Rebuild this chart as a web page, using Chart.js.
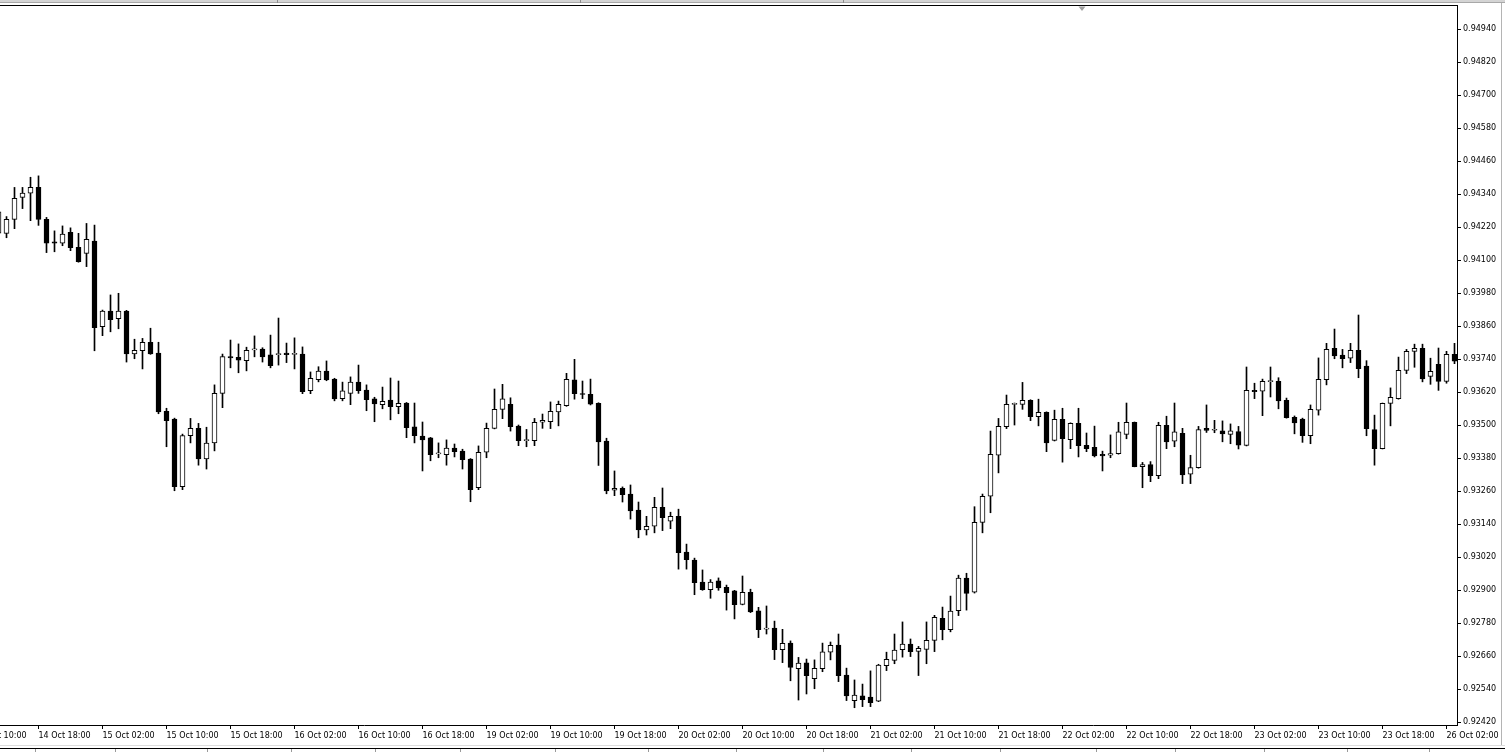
<!DOCTYPE html>
<html>
<head>
<meta charset="utf-8">
<title>H1 candlestick chart</title>
<script src="https://cdn.jsdelivr.net/npm/chart.js@4.4.1/dist/chart.umd.min.js"></script>
<style>
  html, body { margin: 0; padding: 0; background: #fff; overflow: hidden; }
  #wrap { width: 1505px; height: 752px; }
</style>
</head>
<body>
<div id="wrap"><canvas id="chart" width="1505" height="752"></canvas></div>
<script>
// Hourly bars, 14 Oct 13:00 .. 26 Oct 03:00 (first one is cut off by the left edge)
const firstBar = -1;

const opens = [
  0.94199,
  0.94198, 0.94249, 0.94329, 0.94344, 0.94365, 0.94249, 0.94167, 0.94162, 0.94202, 0.94147,
  0.94125, 0.94170, 0.93859, 0.93915, 0.93888, 0.93915, 0.93760, 0.93771, 0.93802, 0.93763,
  0.93551, 0.93523, 0.93277, 0.93462, 0.93489, 0.93378, 0.93436, 0.93616, 0.93750, 0.93747,
  0.93735, 0.93774, 0.93777, 0.93756, 0.93757, 0.93763, 0.93758, 0.93759, 0.93626, 0.93666,
  0.93697, 0.93668, 0.93597, 0.93616, 0.93657, 0.93628, 0.93596, 0.93575, 0.93592, 0.93568,
  0.93581, 0.93494, 0.93461, 0.93454, 0.93396, 0.93393, 0.93417, 0.93406, 0.93377, 0.93273,
  0.93402, 0.93489, 0.93558, 0.93576, 0.93497, 0.93444, 0.93444, 0.93511, 0.93513, 0.93549,
  0.93571, 0.93665, 0.93614, 0.93613, 0.93580, 0.93443, 0.93264, 0.93271, 0.93250, 0.93192,
  0.93120, 0.93133, 0.93202, 0.93151, 0.93169, 0.93039, 0.93010, 0.92930, 0.92902, 0.92934,
  0.92911, 0.92898, 0.92849, 0.92893, 0.92825, 0.92759, 0.92763, 0.92684, 0.92708, 0.92615,
  0.92636, 0.92579, 0.92615, 0.92675, 0.92701, 0.92592, 0.92499, 0.92516, 0.92512, 0.92497,
  0.92626, 0.92645, 0.92684, 0.92704, 0.92678, 0.92685, 0.92718, 0.92798, 0.92757, 0.92826,
  0.92944, 0.92893, 0.93147, 0.93242, 0.93391, 0.93495, 0.93576, 0.93576, 0.93591, 0.93531,
  0.93547, 0.93445, 0.93522, 0.93448, 0.93507, 0.93427, 0.93420, 0.93394, 0.93391, 0.93397,
  0.93467, 0.93511, 0.93350, 0.93357, 0.93317, 0.93500, 0.93442, 0.93471, 0.93322, 0.93346,
  0.93489, 0.93482, 0.93480, 0.93467, 0.93477, 0.93427, 0.93627, 0.93624, 0.93659, 0.93660,
  0.93591, 0.93529, 0.93523, 0.93462, 0.93555, 0.93666, 0.93780, 0.93755, 0.93744, 0.93773,
  0.93715, 0.93484, 0.93415, 0.93580, 0.93597, 0.93700, 0.93769, 0.93780, 0.93678, 0.93722,
  0.93660, 0.93758
];

const highs = [
  0.94280,
  0.94259, 0.94365, 0.94365, 0.94402, 0.94407, 0.94256, 0.94207, 0.94225, 0.94218, 0.94198,
  0.94234, 0.94228, 0.93919, 0.93974, 0.93980, 0.93918, 0.93813, 0.93816, 0.93853, 0.93802,
  0.93562, 0.93526, 0.93468, 0.93525, 0.93507, 0.93493, 0.93647, 0.93759, 0.93810, 0.93796,
  0.93784, 0.93825, 0.93782, 0.93828, 0.93890, 0.93799, 0.93818, 0.93785, 0.93694, 0.93713,
  0.93734, 0.93671, 0.93657, 0.93676, 0.93719, 0.93647, 0.93602, 0.93639, 0.93672, 0.93661,
  0.93583, 0.93581, 0.93512, 0.93456, 0.93436, 0.93447, 0.93432, 0.93413, 0.93379, 0.93425,
  0.93508, 0.93632, 0.93649, 0.93600, 0.93501, 0.93485, 0.93525, 0.93541, 0.93585, 0.93588,
  0.93689, 0.93740, 0.93661, 0.93668, 0.93582, 0.93453, 0.93334, 0.93276, 0.93283, 0.93221,
  0.93169, 0.93238, 0.93272, 0.93184, 0.93195, 0.93068, 0.93017, 0.92974, 0.92939, 0.92945,
  0.92919, 0.92900, 0.92952, 0.92904, 0.92838, 0.92843, 0.92788, 0.92758, 0.92716, 0.92656,
  0.92650, 0.92647, 0.92708, 0.92712, 0.92741, 0.92617, 0.92574, 0.92559, 0.92607, 0.92631,
  0.92675, 0.92741, 0.92785, 0.92723, 0.92696, 0.92785, 0.92809, 0.92839, 0.92879, 0.92955,
  0.92962, 0.93204, 0.93250, 0.93479, 0.93525, 0.93610, 0.93581, 0.93656, 0.93593, 0.93595,
  0.93549, 0.93555, 0.93562, 0.93509, 0.93562, 0.93472, 0.93497, 0.93406, 0.93465, 0.93511,
  0.93581, 0.93512, 0.93365, 0.93368, 0.93511, 0.93533, 0.93581, 0.93489, 0.93391, 0.93496,
  0.93574, 0.93518, 0.93516, 0.93505, 0.93496, 0.93712, 0.93653, 0.93668, 0.93712, 0.93673,
  0.93599, 0.93534, 0.93526, 0.93574, 0.93745, 0.93798, 0.93850, 0.93776, 0.93798, 0.93901,
  0.93735, 0.93537, 0.93581, 0.93636, 0.93748, 0.93776, 0.93795, 0.93795, 0.93744, 0.93781,
  0.93769, 0.93798
];

const lows = [
  0.94190,
  0.94182, 0.94215, 0.94288, 0.94244, 0.94227, 0.94128, 0.94131, 0.94153, 0.94135, 0.94093,
  0.94077, 0.93771, 0.93826, 0.93840, 0.93851, 0.93730, 0.93742, 0.93705, 0.93758, 0.93542,
  0.93422, 0.93262, 0.93266, 0.93436, 0.93355, 0.93341, 0.93407, 0.93564, 0.93709, 0.93691,
  0.93698, 0.93749, 0.93730, 0.93709, 0.93719, 0.93728, 0.93705, 0.93615, 0.93615, 0.93658,
  0.93662, 0.93589, 0.93589, 0.93575, 0.93616, 0.93553, 0.93513, 0.93560, 0.93520, 0.93542,
  0.93455, 0.93436, 0.93334, 0.93371, 0.93382, 0.93355, 0.93385, 0.93341, 0.93222, 0.93266,
  0.93382, 0.93487, 0.93524, 0.93479, 0.93426, 0.93422, 0.93426, 0.93489, 0.93488, 0.93498,
  0.93569, 0.93595, 0.93597, 0.93574, 0.93354, 0.93251, 0.93244, 0.93221, 0.93159, 0.93091,
  0.93101, 0.93109, 0.93117, 0.93124, 0.92977, 0.92977, 0.92884, 0.92900, 0.92871, 0.92900,
  0.92828, 0.92796, 0.92847, 0.92819, 0.92728, 0.92741, 0.92648, 0.92637, 0.92571, 0.92501,
  0.92523, 0.92542, 0.92604, 0.92647, 0.92568, 0.92499, 0.92473, 0.92477, 0.92477, 0.92495,
  0.92608, 0.92633, 0.92657, 0.92659, 0.92590, 0.92633, 0.92677, 0.92720, 0.92749, 0.92808,
  0.92828, 0.92890, 0.93109, 0.93182, 0.93327, 0.93488, 0.93501, 0.93558, 0.93517, 0.93498,
  0.93404, 0.93443, 0.93366, 0.93415, 0.93385, 0.93404, 0.93385, 0.93334, 0.93382, 0.93395,
  0.93451, 0.93349, 0.93273, 0.93295, 0.93306, 0.93415, 0.93422, 0.93288, 0.93288, 0.93344,
  0.93474, 0.93473, 0.93440, 0.93433, 0.93414, 0.93425, 0.93597, 0.93535, 0.93603, 0.93560,
  0.93526, 0.93469, 0.93438, 0.93433, 0.93537, 0.93647, 0.93742, 0.93709, 0.93728, 0.93673,
  0.93462, 0.93355, 0.93414, 0.93498, 0.93595, 0.93688, 0.93711, 0.93658, 0.93649, 0.93627,
  0.93653, 0.93724
];

const closes = [
  0.94276,
  0.94249, 0.94325, 0.94344, 0.94365, 0.94249, 0.94162, 0.94162, 0.94195, 0.94146, 0.94095,
  0.94176, 0.93855, 0.93915, 0.93884, 0.93915, 0.93760, 0.93773, 0.93802, 0.93760, 0.93549,
  0.93517, 0.93277, 0.93463, 0.93489, 0.93378, 0.93435, 0.93616, 0.93750, 0.93745, 0.93737,
  0.93773, 0.93777, 0.93749, 0.93717, 0.93759, 0.93757, 0.93759, 0.93622, 0.93671, 0.93697,
  0.93665, 0.93596, 0.93625, 0.93657, 0.93626, 0.93593, 0.93578, 0.93587, 0.93568, 0.93580,
  0.93491, 0.93462, 0.93447, 0.93393, 0.93397, 0.93417, 0.93404, 0.93375, 0.93266, 0.93402,
  0.93489, 0.93558, 0.93596, 0.93495, 0.93444, 0.93446, 0.93511, 0.93518, 0.93551, 0.93576,
  0.93667, 0.93615, 0.93612, 0.93577, 0.93440, 0.93261, 0.93271, 0.93248, 0.93189, 0.93120,
  0.93133, 0.93202, 0.93164, 0.93169, 0.93037, 0.93011, 0.92928, 0.92902, 0.92930, 0.92909,
  0.92891, 0.92848, 0.92893, 0.92821, 0.92757, 0.92762, 0.92684, 0.92707, 0.92620, 0.92635,
  0.92590, 0.92616, 0.92676, 0.92700, 0.92590, 0.92516, 0.92519, 0.92502, 0.92491, 0.92628,
  0.92649, 0.92683, 0.92704, 0.92677, 0.92689, 0.92718, 0.92802, 0.92757, 0.92824, 0.92944,
  0.92889, 0.93147, 0.93242, 0.93394, 0.93496, 0.93576, 0.93578, 0.93591, 0.93531, 0.93547,
  0.93436, 0.93522, 0.93451, 0.93507, 0.93426, 0.93415, 0.93389, 0.93389, 0.93397, 0.93476,
  0.93511, 0.93350, 0.93357, 0.93317, 0.93500, 0.93440, 0.93476, 0.93320, 0.93346, 0.93484,
  0.93481, 0.93484, 0.93469, 0.93480, 0.93428, 0.93627, 0.93622, 0.93660, 0.93661, 0.93589,
  0.93528, 0.93509, 0.93462, 0.93558, 0.93667, 0.93776, 0.93752, 0.93742, 0.93773, 0.93706,
  0.93488, 0.93415, 0.93580, 0.93602, 0.93700, 0.93769, 0.93780, 0.93669, 0.93696, 0.93660,
  0.93758, 0.93733
];

// time scale labels, one every 8 bars, the first sits at bar -4
const xTickLabels = [
  '14 Oct 10:00', '14 Oct 18:00', '15 Oct 02:00', '15 Oct 10:00', '15 Oct 18:00',
  '16 Oct 02:00', '16 Oct 10:00', '16 Oct 18:00', '19 Oct 02:00', '19 Oct 10:00',
  '19 Oct 18:00', '20 Oct 02:00', '20 Oct 10:00', '20 Oct 18:00', '21 Oct 02:00',
  '21 Oct 10:00', '21 Oct 18:00', '22 Oct 02:00', '22 Oct 10:00', '22 Oct 18:00',
  '23 Oct 02:00', '23 Oct 10:00', '23 Oct 18:00', '26 Oct 02:00'
];
const xTickBars = xTickLabels.map((_, k) => -4 + 8 * k);

const yTicks = [
  0.92420, 0.92540, 0.92660, 0.92780, 0.92900, 0.93020, 0.93140, 0.93260,
  0.93380, 0.93500, 0.93620, 0.93740, 0.93860, 0.93980, 0.94100, 0.94220,
  0.94340, 0.94460, 0.94580, 0.94700, 0.94820, 0.94940
];

// visible window of the chart
const xMin = -0.8125, xMax = 181.3125;
const yMin = 0.924102, yMax = 0.950247;

const bars = opens.map((o, k) => ({ x: firstBar + k, o: o, h: highs[k], l: lows[k], c: closes[k] }));

const axisFont = { family: 'DejaVu Sans', size: 8 };

// window chrome of the terminal round the chart
const mt4Frame = {
    id: 'mt4Frame',
    beforeDraw: (chart) => {
        const c = chart.ctx;
        c.save();
        c.fillStyle = '#fff';
        c.fillRect(0, 0, chart.width, chart.height);
        c.restore();
    },
    afterDraw: (chart) => {
        const c = chart.ctx;
        const a = chart.chartArea;
        const W = chart.width;
        c.save();
        // top toolbar edge
        c.fillStyle = '#d4d4d4';
        c.fillRect(0, 0, W, 3);
        c.fillStyle = '#a8a8a8';
        c.fillRect(0, 2, W, 1);
        c.fillStyle = '#8c8c8c';
        [277, 580, 843].forEach(x => c.fillRect(x, 0, 1, 3));
        // plot border, top side
        c.fillStyle = '#000';
        c.fillRect(0, a.top - 1, a.right + 1, 1);
        // chart shift marker
        c.fillStyle = '#a0a0a0';
        c.beginPath();
        c.moveTo(1078.5, 6.5);
        c.lineTo(1085.5, 6.5);
        c.lineTo(1082, 11);
        c.closePath();
        c.fill();
        // right window edge
        c.fillStyle = '#b4b4b4';
        c.fillRect(1501, 3, 1, 743);
        // bottom tab strip
        c.fillStyle = '#dcdcdc';
        c.fillRect(0, 745, W, 1);
        c.fillStyle = '#000';
        c.fillRect(0, 748, W, 1);
        c.fillStyle = '#9a9a9a';
        [35, 115, 207, 291, 375, 460, 555, 648, 736, 823, 911, 1000, 1096, 1175, 1264, 1347, 1429]
            .forEach(x => c.fillRect(x, 749, 1, 3));
        c.restore();
    }
};

const ctx = document.getElementById('chart').getContext('2d');

new Chart(ctx, {
    type: 'bar',
    data: {
        datasets: [
            {
                label: 'body',
                data: bars.map(b => ({ x: b.x, y: [b.o, b.c] })),
                backgroundColor: bars.map(b => (b.c >= b.o ? '#ffffff' : '#000000')),
                borderColor: '#000000',
                borderWidth: 1,
                borderSkipped: false,
                barThickness: 5,
                minBarLength: 1,
                grouped: false,
                order: 0
            },
            {
                label: 'wick',
                data: bars.map(b => ({ x: b.x, y: [b.l, b.h] })),
                backgroundColor: '#000000',
                borderWidth: 0,
                barThickness: 1,
                minBarLength: 1,
                grouped: false,
                order: 1
            }
        ]
    },
    options: {
        responsive: false,
        animation: false,
        devicePixelRatio: 1,
        events: [],
        layout: { padding: { top: 6, left: 0, right: 0, bottom: 0 } },
        plugins: {
            legend: { display: false },
            tooltip: { enabled: false }
        },
        scales: {
            x: {
                type: 'linear',
                min: xMin,
                max: xMax,
                offset: false,
                grid: { offset: false, drawOnChartArea: false, drawTicks: true, tickLength: 4, color: '#000', tickColor: '#000' },
                border: { display: true, color: '#000', width: 1 },
                ticks: {
                    autoSkip: false,
                    maxRotation: 0,
                    minRotation: 0,
                    align: 'start',
                    padding: 2,
                    color: '#000',
                    font: axisFont,
                    callback: (v, i) => xTickLabels[i]
                },
                afterBuildTicks: (s) => { s.ticks = xTickBars.map(v => ({ value: v })); },
                afterFit: (s) => { s.height = 27; s.paddingLeft = 0; s.paddingRight = 0; }
            },
            y: {
                type: 'linear',
                position: 'right',
                min: yMin,
                max: yMax,
                grid: { drawOnChartArea: false, drawTicks: true, tickLength: 4, color: '#000', tickColor: '#000' },
                border: { display: true, color: '#000', width: 1 },
                ticks: {
                    autoSkip: false,
                    padding: 2,
                    color: '#000',
                    font: axisFont,
                    callback: (v) => v.toFixed(5)
                },
                afterBuildTicks: (s) => { s.ticks = yTicks.map(v => ({ value: v })); },
                afterFit: (s) => { s.width = 48; s.paddingTop = 0; s.paddingBottom = 0; }
            }
        }
    },
    plugins: [mt4Frame]
});
</script>
</body>
</html>
